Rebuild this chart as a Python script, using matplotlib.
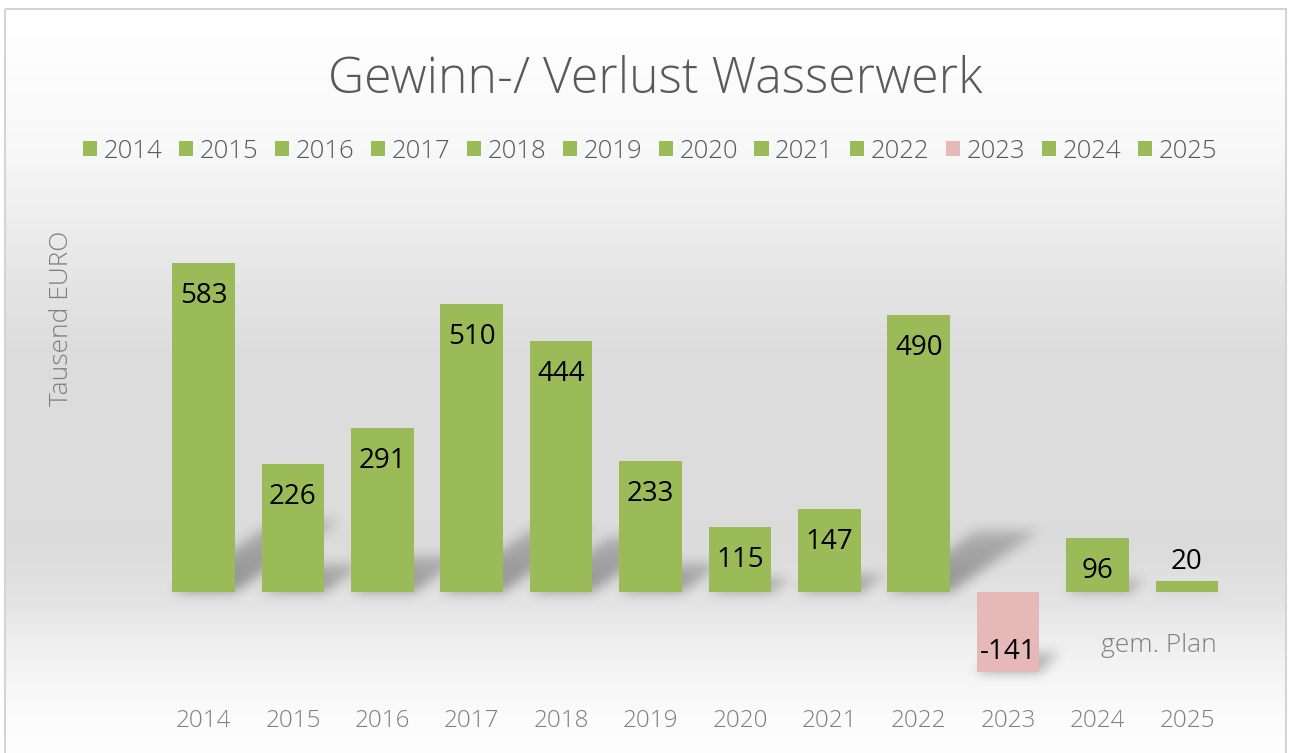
import numpy as np
import matplotlib
matplotlib.use("Agg")
import matplotlib.pyplot as plt
from matplotlib.patches import Patch, Rectangle
from matplotlib.path import Path

# data (Tausend EURO)
years = ['2014', '2015', '2016', '2017', '2018', '2019',
         '2020', '2021', '2022', '2023', '2024', '2025']
values = [583, 226, 291, 510, 444, 233, 115, 147, 490, -141, 96, 20]
green = '#9BBB59'
pink = '#E6B9B8'
bar_colors = [pink if v < 0 else green for v in values]

plt.rcParams['font.family'] = ['Open Sans', 'DejaVu Sans']

W, H = 1292, 753
fig = plt.figure(figsize=(W / 100, H / 100), dpi=100)

# background: grey vertical gradient inside a thin frame
bg = fig.add_axes([0, 0, 1, 1], zorder=0)
stops_y = [0, 150, 250, 350, 550, 600, 660, 720, 753]
stops_v = [255, 247, 232, 220, 219, 227, 242, 251, 253]
grad = np.interp(np.arange(H), stops_y, stops_v) / 255
img = np.repeat(grad[:, None], W, axis=1)
img[:9, :] = 1.0
img[:, :5] = 1.0
img[:, 1286:] = 1.0
bg.imshow(img, cmap='gray', vmin=0, vmax=1, extent=(0, W, H, 0),
          interpolation='bilinear', aspect='auto')
bg.add_patch(Rectangle((5, 9), 1281, 760, fill=False, edgecolor='#D4D4D4', lw=1.5))
bg.set_xlim(0, W)
bg.set_ylim(H, 0)
bg.axis('off')

# main axes, placed to match the reference pixel layout
ax = fig.add_axes([158.8 / W, 1 - 690 / H, (1231.6 - 158.8) / W, 500 / H], zorder=1)
ax.patch.set_alpha(0)
px_y = 0.5643   # pixels per data unit
px_x = 89.4     # pixels per category
ax.set_ylim(-98 / px_y, 402 / px_y)
ax.set_xlim(-0.5, len(years) - 0.5)

x = np.arange(len(years))
w = 0.7

# soft projected shadows: rasterise the shapes, then blur them
gy, gx = np.mgrid[0:H, 0:W]
pix = np.column_stack([gx.ravel() + 0.5, gy.ravel() + 0.5])
shade = np.zeros((H, W))
for i, v in zip(x, values):
    h = abs(v) * px_y
    if v >= 0:
        dx = 0.32 * h / px_x
        dy = 0.22 * v
        base = 0
    else:
        dx = 22 / px_x
        dy = 20 / px_y
        base = v
    pts = np.array([(i - w / 2, base), (i + w / 2, base),
                    (i + w / 2 + dx, base + dy), (i - w / 2 + dx, base + dy)])
    disp = ax.transData.transform(pts)
    disp[:, 1] = H - disp[:, 1]
    inside = Path(disp).contains_points(pix).reshape(H, W)
    y0 = disp[0, 1]
    span = max(y0 - disp[2, 1], 1)
    t = np.clip((y0 - gy) / span, 0, 1)
    shade = np.maximum(shade, inside * (0.36 - 0.16 * t))

ks = np.arange(-18, 19)
kern = np.exp(-0.5 * (ks / 6.0) ** 2)
kern /= kern.sum()
shade = np.apply_along_axis(lambda r: np.convolve(r, kern, mode='same'), 1, shade)
shade = np.apply_along_axis(lambda c: np.convolve(c, kern, mode='same'), 0, shade)
rgba = np.zeros((H, W, 4))
rgba[..., 3] = shade
bg.imshow(rgba, extent=(0, W, H, 0), aspect='auto', interpolation='bilinear')
bg.set_xlim(0, W)
bg.set_ylim(H, 0)

ax.bar(x, values, width=w, color=bar_colors, zorder=3)

for i, v in zip(x, values):
    h = abs(v) * px_y
    if v < 0:
        off = 20
    elif h < 40:
        off = 19
    else:
        off = -33
    ax.annotate(str(v), (i, v), xytext=(0, off), textcoords='offset pixels',
                ha='center', va='center', fontsize=20, color='black', zorder=4)

ax.text((1217 - 203.5) / px_x, -(645 - 592) / px_y, 'gem. Plan', ha='right',
        va='center', fontsize=19, color='#7F7F7F', fontweight='light')

ax.set_xticks(x)
ax.set_xticklabels(years, fontsize=17.5, color='#7F7F7F', fontweight='light')
ax.tick_params(axis='x', length=0, pad=14)
ax.set_yticks([])
for s in ax.spines.values():
    s.set_visible(False)

fig.text(62 / W, 1 - 318 / H, 'Tausend EURO', rotation=90, ha='center', va='center',
         fontsize=19, color='#7F7F7F', fontweight='light')
fig.text(655 / W, 1 - 80 / H, 'Gewinn-/ Verlust Wasserwerk', ha='center', va='center',
         fontsize=36, color='#595959', fontweight='light')

handles = [Patch(facecolor=c, edgecolor='none') for c in bar_colors]
fig.legend(handles, years, loc='center', bbox_to_anchor=(650 / W, 1 - 151 / H), ncol=12,
           frameon=False, handlelength=0.55, handleheight=0.55, handletextpad=0.25,
           columnspacing=0.65, labelcolor='#595959',
           prop={'weight': 'light', 'size': 18.5})

fig.savefig('out.png', dpi=100)
